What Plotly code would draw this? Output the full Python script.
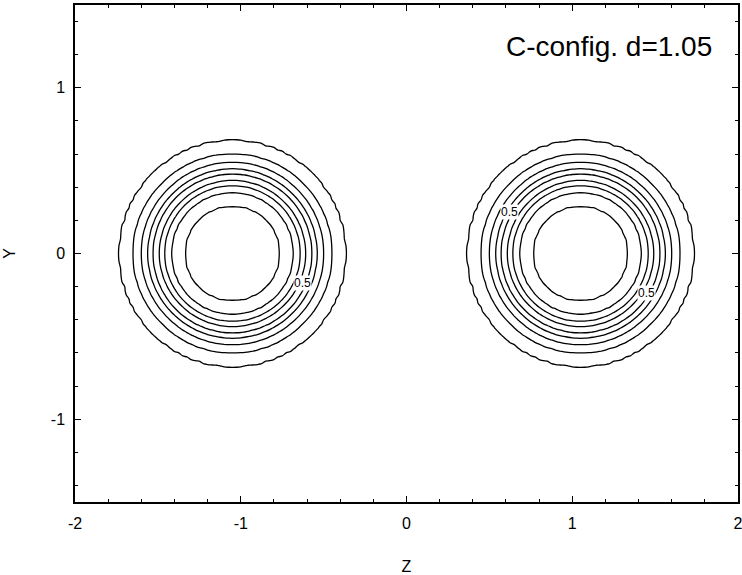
import numpy as np
import plotly.graph_objects as go

# Contour levels and the radius (in plot units) at which each appears
levels = [0.1, 0.2, 0.3, 0.4, 0.5, 0.6, 0.7, 0.8, 0.9]
level_radii = [0.68, 0.60, 0.55, 0.51, 0.48, 0.44, 0.41, 0.37, 0.29]
centers_z = [-1.05, 1.05]
center_y = 0.0
label_z = [-0.63, 0.62, 1.45]
label_y = [-0.18, 0.25, -0.24]
label_text = ["0.5", "0.5", "0.5"]
x_ticks = [-2, -1, 0, 1, 2]
y_ticks = [-1, 0, 1]
title_text = "C-config. d=1.05"

# profile (radius -> value) from the read levels, plus centre and far field
prof_r = np.array([0.0] + level_radii[::-1] + [1.0])
prof_v = np.array([1.0] + levels[::-1] + [0.0])

zg = np.arange(-2.0, 2.0001, 0.025)
yg = np.arange(-1.5, 1.5001, 0.025)
Z, Y = np.meshgrid(zg, yg)
F = np.zeros_like(Z)
for c in centers_z:
    r = np.sqrt((Z - c) ** 2 + (Y - center_y) ** 2)
    F = np.maximum(F, np.interp(r, prof_r, prof_v))

fig = go.Figure(go.Contour(
    x=zg, y=yg, z=F,
    contours=dict(coloring="lines", start=levels[0], end=levels[-1], size=0.1, showlabels=False),
    colorscale=[[0, "black"], [1, "black"]],
    line=dict(width=1.3),
    showscale=False, hoverinfo="skip",
))

for lz, ly, t in zip(label_z, label_y, label_text):
    fig.add_annotation(x=lz, y=ly, text=t, showarrow=False,
                       font=dict(family="Liberation Sans, Arial", size=12, color="black"),
                       bgcolor="white", borderpad=0)

fig.add_annotation(x=1.0, y=1.0, xref="paper", yref="paper", xanchor="right", yanchor="top",
                   xshift=-24, yshift=-24, text=title_text, showarrow=False,
                   font=dict(family="Liberation Sans, Arial", size=28, color="black"))

axis_common = dict(
    showline=True, linecolor="black", linewidth=1.5, mirror="allticks",
    ticks="inside", ticklen=6, tickcolor="black", tickwidth=1,
    showgrid=False, zeroline=False, automargin=False, ticklabeloverflow="allow",
    tickfont=dict(family="Liberation Sans, Arial", size=16, color="black"),
    minor=dict(ticks="inside", ticklen=3, dtick=0.2, tickcolor="black", showgrid=False),
)

fig.update_layout(
    width=742, height=575,
    margin=dict(l=75, r=4, t=5, b=73),
    paper_bgcolor="white", plot_bgcolor="white",
    showlegend=False,
    xaxis=dict(range=[-2, 2], tickvals=x_ticks, ticktext=[str(v) for v in x_ticks],
               ticklabelstandoff=6,
               title=dict(text="Z", font=dict(family="Liberation Sans, Arial", size=16, color="black"), standoff=32),
               **axis_common),
    yaxis=dict(range=[-1.5, 1.5], tickvals=y_ticks, ticktext=[str(v) for v in y_ticks],
               ticklabelstandoff=5,
               title=dict(text="Y", font=dict(family="Liberation Sans, Arial", size=16, color="black"), standoff=31),
               **axis_common),
)

fig.write_html("out.html", config={"displayModeBar": False},
               post_script="document.body.style.margin='0';")
